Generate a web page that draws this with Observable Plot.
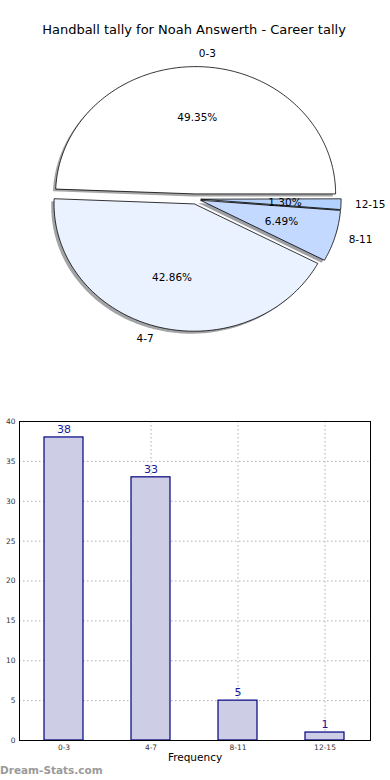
<!DOCTYPE html>
<html>
<head>
<meta charset="utf-8">
<script src="https://cdn.jsdelivr.net/npm/d3@7"></script>
<script src="https://cdn.jsdelivr.net/npm/@observablehq/plot@0.6"></script>
<style>
  html, body { margin: 0; padding: 0; background: #fff; }
  body { width: 390px; height: 780px; overflow: hidden; font-family: "DejaVu Sans", sans-serif; }
  #title { height: 40px; box-sizing: border-box; padding-top: 21px; line-height: 18px; font-size: 13px; text-align: center; color: #000; padding-right: 2px; }
  svg { display: block; }
  #mark { height: 17px; line-height: 14px; font-size: 10.5px; font-weight: bold; color: #9a9a9a; padding-left: 0px; }
</style>
</head>
<body>
<div id="title">Handball tally for Noah Answerth - Career tally</div>
<div id="pie"></div>
<div id="bar"></div>
<div id="mark">Dream-Stats.com</div>
<script>
// ---- data ----
const categories = ["0-3", "4-7", "8-11", "12-15"];
const counts = [38, 33, 5, 1];
const yTicks = [0, 5, 10, 15, 20, 25, 30, 35, 40];
const explode = [0.04, 0.04, 0.04, 0.04];
const pieColors = ["#ffffff", "#ebf2ff", "#c3d9ff", "#b3d1ff"];

// ---- pie geometry (matplotlib style, start angle 0, counter-clockwise) ----
const total = d3.sum(counts);
const wedges = [];
let acc = 0;
categories.forEach((c, i) => {
  const frac = counts[i] / total;
  const t1 = acc * 2 * Math.PI, t2 = (acc + frac) * 2 * Math.PI;
  const mid = (t1 + t2) / 2;
  const cx = explode[i] * Math.cos(mid), cy = explode[i] * Math.sin(mid);
  wedges.push({label: c, frac, t1, t2, mid, cx, cy, color: pieColors[i]});
  acc += frac;
});
const piePts = [];
wedges.forEach(w => {
  piePts.push({key: w.label, x: w.cx, y: w.cy});
  const n = Math.max(2, Math.ceil((w.t2 - w.t1) / (Math.PI / 180)));
  for (let k = 0; k <= n; k++) {
    const t = w.t1 + (w.t2 - w.t1) * k / n;
    piePts.push({key: w.label, x: w.cx + Math.cos(t), y: w.cy + Math.sin(t)});
  }
});
const shadowColor = c => { const r = d3.rgb(c); return d3.rgb(r.r * 0.3, r.g * 0.3, r.b * 0.3).formatHex(); };
const pctLabels = wedges.map(w => ({x: w.cx + 0.6 * Math.cos(w.mid), y: w.cy + 0.6 * Math.sin(w.mid), text: (w.frac * 100).toFixed(2) + "%"}));
const catLabels = wedges.map(w => ({x: w.cx + 1.1 * Math.cos(w.mid), y: w.cy + 1.1 * Math.sin(w.mid), text: w.label}));

const pie = Plot.plot({
  width: 390, height: 360,
  margin: 0,
  x: {domain: [-1, 1], range: [55, 335], axis: null},
  y: {domain: [-1, 1], range: [285.8, 31.2], axis: null},
  color: {domain: categories, range: pieColors},
  style: {fontFamily: "DejaVu Sans, sans-serif", background: "transparent"},
  marks: [
    Plot.line(piePts, {x: "x", y: "y", z: "key", curve: "linear-closed", dx: -2.8, dy: 2.5,
      fill: d => shadowColor(pieColors[categories.indexOf(d.key)]), fillOpacity: 0.5, stroke: "none"}),
    Plot.line(piePts, {x: "x", y: "y", z: "key", curve: "linear-closed", fill: "key", stroke: "#000", strokeWidth: 0.8}),
    Plot.text(pctLabels, {x: "x", y: "y", text: "text", fontSize: 10.5, fill: "#000"}),
    Plot.text(catLabels, {filter: d => d.x >= 0, x: "x", y: "y", text: "text", textAnchor: "start", fontSize: 10.5, fill: "#000"}),
    Plot.text(catLabels, {filter: d => d.x < 0, x: "x", y: "y", text: "text", textAnchor: "end", fontSize: 10.5, fill: "#000"})
  ]
});
document.getElementById("pie").append(pie);

// ---- bar chart ----
const barData = categories.map((c, i) => ({label: c, count: counts[i]}));
const bar = Plot.plot({
  width: 390, height: 363,
  marginTop: 21, marginLeft: 19, marginRight: 20, marginBottom: 23,
  x: {domain: categories, paddingInner: 0.55, paddingOuter: 0.275},
  y: {domain: [0, 40]},
  style: {fontFamily: "DejaVu Sans, sans-serif", background: "transparent"},
  marks: [
    Plot.ruleY(yTicks.filter(t => t > 0 && t < 40), {stroke: "#b0b0b0", strokeWidth: 1, strokeDasharray: "1.5,2.5"}),
    Plot.gridX({stroke: "#b0b0b0", strokeOpacity: 1, strokeWidth: 1, strokeDasharray: "1.5,2.5"}),
    Plot.barY(barData, {x: "label", y: "count", fill: "#cdcde6", stroke: "#000080", strokeWidth: 1.2}),
    Plot.text(barData, {x: "label", y: "count", text: d => String(d.count), dy: -8, fontSize: 11, fill: "#1a1a99"}),
    Plot.frame({stroke: "#000", strokeWidth: 1}),
    Plot.axisY({ticks: yTicks, tickSize: 0, tickPadding: 4, fontSize: 7.5, fill: "#333", label: null}),
    Plot.axisX({tickSize: 0, tickPadding: 4, fontSize: 7.5, fill: "#333", label: null}),
    Plot.text(["Frequency"], {frameAnchor: "bottom", dy: 20, fontSize: 10.5, fill: "#000"})
  ]
});
document.getElementById("bar").append(bar);
</script>
</body>
</html>
